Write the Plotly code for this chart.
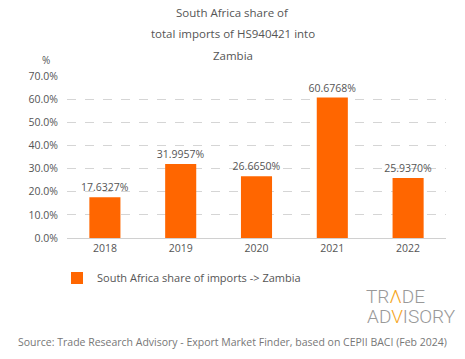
import plotly.graph_objects as go

years = ["2018", "2019", "2020", "2021", "2022"]
share = [17.6327, 31.9957, 26.6650, 60.6768, 25.9370]
series_name = "South Africa share of imports -> Zambia"
title_lines = ["South Africa share of", "total imports of HS940421 into", "Zambia"]
source = "Source: Trade Research Advisory - Export Market Finder, based on CEPII BACI (Feb 2024)"
tick_vals = [0, 10, 20, 30, 40, 50, 60, 70]
tick_text = [f"{v:.1f}%" for v in tick_vals]

FONT = "Open Sans"
GRAY = "#555555"
ORANGE = "#FF6600"

W, H = 465, 359
L, R, T, B = 67, 19, 76, 121
PW, PH = W - L - R, H - T - B


def px(x):
    return (x - L) / PW


def py(y):
    return (H - B - y) / PH


fig = go.Figure()
fig.add_trace(go.Bar(
    x=years, y=share, name=series_name,
    marker=dict(color=ORANGE, line=dict(width=0)),
    text=[f"{v:.4f}%" for v in share],
    textposition="outside",
    constraintext="none",
    textfont=dict(family=FONT, size=10.5, color=GRAY),
    cliponaxis=False,
))

annotations = []
for line, y in zip(title_lines, [12, 34, 56]):
    annotations.append(dict(text=line, x=px(W / 2), xref="paper", y=py(y), yref="paper",
                            xanchor="center", yanchor="middle", showarrow=False,
                            font=dict(family=FONT, size=11.5, color=GRAY)))
annotations.append(dict(text="%", x=px(46), xref="paper", y=py(60), yref="paper",
                        xanchor="center", yanchor="middle", showarrow=False,
                        font=dict(family=FONT, size=10, color=GRAY)))
annotations.append(dict(text=source, x=px(W / 2), xref="paper", y=py(342), yref="paper",
                        xanchor="center", yanchor="middle", showarrow=False,
                        font=dict(family=FONT, size=10.5, color="#777777")))
LOGO_FONT = dict(family="Roboto", size=19, weight=300, color="#999999")
annotations.append(dict(text="TR<span style='color:#F5A623'>Λ</span>DE", x=px(364), xref="paper",
                        y=py(296), yref="paper", xanchor="left", yanchor="middle",
                        showarrow=False, font=LOGO_FONT))
annotations.append(dict(text="AD<span style='color:#F5A623'>V</span>ISORY", x=px(365), xref="paper",
                        y=py(316), yref="paper", xanchor="left", yanchor="middle",
                        showarrow=False, font=LOGO_FONT))

fig.update_layout(
    width=W, height=H,
    margin=dict(l=L, r=R, t=T, b=B, autoexpand=False),
    paper_bgcolor="white", plot_bgcolor="white",
    font=dict(family=FONT, color=GRAY, size=11),
    bargap=0.59,
    showlegend=True,
    legend=dict(orientation="h", x=px(57), xanchor="left", y=py(278), yref="paper",
                yanchor="middle", font=dict(family=FONT, size=11, color=GRAY),
                bgcolor="rgba(0,0,0,0)"),
    xaxis=dict(showgrid=False, showline=True, linecolor="#D0D0D0", linewidth=1,
               tickfont=dict(family=FONT, size=10.5, color=GRAY), ticks=""),
    yaxis=dict(range=[0, 70], tickvals=tick_vals, ticktext=tick_text,
               showgrid=True, gridcolor="#D5D5D5", griddash="dash", gridwidth=1,
               zeroline=False, showline=False, ticks="", ticklabelstandoff=8,
               tickfont=dict(family=FONT, size=10.5, color=GRAY)),
    annotations=annotations,
)

fig.write_html("out.html", config={"displayModeBar": False},
               post_script="document.body.style.margin='0';")
